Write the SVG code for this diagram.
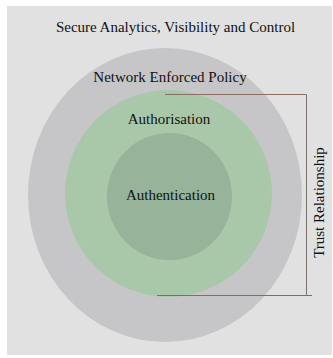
<svg xmlns="http://www.w3.org/2000/svg" width="333" height="358" viewBox="0 0 333 358">
  <style>
    .t { font-family: "Liberation Serif", "Times New Roman", serif; font-size: 15px; fill: #111111; text-anchor: middle; }
    .ln { stroke: #7a716c; stroke-width: 1; fill: none; }
  </style>
  <rect x="0" y="0" width="333" height="358" fill="#ffffff"/>
  <rect x="7" y="6" width="325" height="349" fill="#e1e1e1"/>
  <g id="title">
    <text class="t" x="175.5" y="32">Secure Analytics, Visibility and Control</text>
  </g>
  <g id="network-enforced-policy">
    <ellipse cx="165" cy="195" rx="137" ry="147" fill="#c6c6c8"/>
    <text class="t" x="170" y="82">Network Enforced Policy</text>
  </g>
  <g id="authorisation">
    <circle cx="168.5" cy="193.5" r="103.5" fill="#a9c8aa"/>
    <text class="t" x="169" y="124">Authorisation</text>
  </g>
  <g id="authentication">
    <ellipse cx="169.5" cy="196.5" rx="62.5" ry="63.5" fill="#97b399"/>
    <text class="t" x="170.5" y="200">Authentication</text>
  </g>
  <g id="connectors">
    <line x1="165" y1="94.5" x2="306.5" y2="94.5" stroke="#8a6e62" stroke-width="1"/>
    <line class="ln" x1="306.5" y1="94.5" x2="306.5" y2="295.5"/>
    <line class="ln" x1="157" y1="295.5" x2="312" y2="295.5"/>
  </g>
  <g id="trust-relationship">
    <text class="t" transform="translate(323.5,202.5) rotate(-90)">Trust Relationship</text>
  </g>
</svg>
